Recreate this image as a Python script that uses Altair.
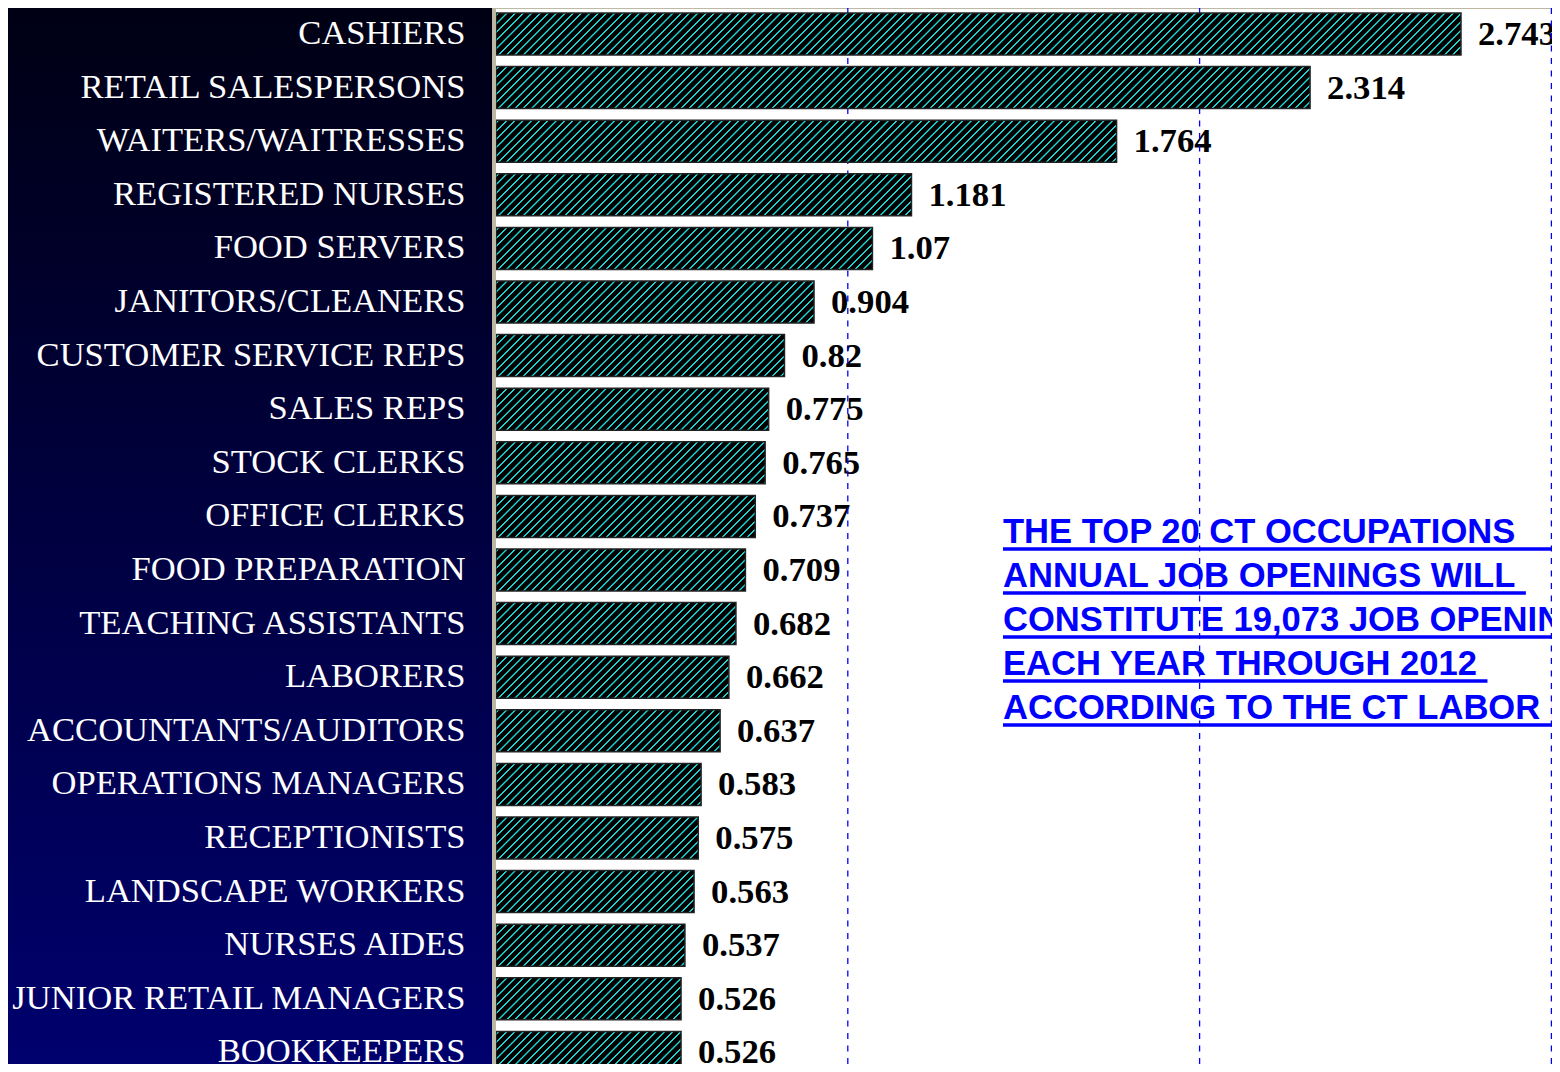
import altair as alt
import pandas as pd

# ---------------- data ----------------
categories = [
    "CASHIERS", "RETAIL SALESPERSONS", "WAITERS/WAITRESSES", "REGISTERED NURSES",
    "FOOD SERVERS", "JANITORS/CLEANERS", "CUSTOMER SERVICE REPS", "SALES REPS",
    "STOCK CLERKS", "OFFICE CLERKS", "FOOD PREPARATION", "TEACHING ASSISTANTS",
    "LABORERS", "ACCOUNTANTS/AUDITORS", "OPERATIONS MANAGERS", "RECEPTIONISTS",
    "LANDSCAPE WORKERS", "NURSES AIDES", "JUNIOR RETAIL MANAGERS", "BOOKKEEPERS",
]
values = [2.743, 2.314, 1.764, 1.181, 1.07, 0.904, 0.82, 0.775, 0.765, 0.737,
          0.709, 0.682, 0.662, 0.637, 0.583, 0.575, 0.563, 0.537, 0.526, 0.526]
grid_values = [1, 2, 3]
note_lines = [
    "THE TOP 20 CT OCCUPATIONS",
    "ANNUAL JOB OPENINGS WILL ",
    "CONSTITUTE 19,073 JOB OPENINGS",
    "EACH YEAR THROUGH 2012 ",
    "ACCORDING TO THE CT LABOR DEPARTMENT",
]
note_underline_to_edge = [True, False, True, False, True]

# ---------------- layout / style ----------------
LEFT = 488          # room for category labels
W = 1056            # plot width
H = 1056            # plot height
PX = 351.8          # pixels per unit
XMAX = W / PX
STEP = 53.6
Y0 = -0.8
PAD_IN = 1 - 42 / STEP
BAR_H = STEP * (1 - PAD_IN)

NOTE_FS = 34.6
NOTE_X0 = 507 / PX
NOTE_Y0 = 535
NOTE_DY = 44

ARIAL_BOLD = {" ": .278, ",": .278, "'": .238, "A": .722, "B": .722, "C": .722, "D": .722,
              "E": .667, "F": .611, "G": .778, "H": .722, "I": .278, "J": .556, "K": .722,
              "L": .611, "M": .833, "N": .722, "O": .778, "P": .667, "Q": .778, "R": .722,
              "S": .667, "T": .611, "U": .722, "V": .667, "W": .944, "X": .667, "Y": .667,
              "Z": .611}


def text_width(s, fs):
    return sum(ARIAL_BOLD.get(c, .556) for c in s) * fs


def hatch(width_px, height_px, period=8.3, ramp=0.5, flat=1.5, ink="#1fd2d2", base="#000000"):
    D = width_px + height_px
    s = D * width_px / (width_px ** 2 + height_px ** 2)
    stops = [alt.GradientStop(offset=0, color=base)]
    a = 1.5
    while a + 2 * ramp + flat < D:
        stops += [alt.GradientStop(offset=round(a / D, 6), color=base),
                  alt.GradientStop(offset=round((a + ramp) / D, 6), color=ink),
                  alt.GradientStop(offset=round((a + ramp + flat) / D, 6), color=ink),
                  alt.GradientStop(offset=round((a + 2 * ramp + flat) / D, 6), color=base)]
        a += period
    stops.append(alt.GradientStop(offset=1, color=base))
    return alt.LinearGradient(gradient="linear", x1=0, y1=0, x2=s,
                              y2=s * height_px / width_px, stops=stops)


df = pd.DataFrame({"cat": categories, "value": values,
                   "label": [str(v) for v in values]})

rows = []
for i, ln in enumerate(note_lines):
    ypx = NOTE_Y0 + NOTE_DY * i
    x1 = XMAX + 0.2 if note_underline_to_edge[i] else NOTE_X0 + text_width(ln, NOTE_FS) / PX
    rows.append({"line": ln, "ypx": ypx, "uy": ypx + 6, "x0": NOTE_X0, "x1": x1})
notes = pd.DataFrame(rows)

x_scale = alt.Scale(domain=[0, XMAX], nice=False, zero=True)
y_enc = alt.Y(
    "cat:N", sort=None,
    scale=alt.Scale(domain=categories, range=[Y0, Y0 + STEP * len(categories)],
                    paddingInner=PAD_IN, paddingOuter=PAD_IN / 2),
    axis=alt.Axis(title=None, ticks=False, domain=False, labelPadding=31, labelLimit=480,
                  labelFont="Liberation Serif", labelFontSize=34.6, labelColor="#ffffff",
                  labelAlign="right", zindex=1),
)

one = pd.DataFrame({"a": [0]})

panel = alt.Chart(one).mark_rect(
    fill=alt.LinearGradient(gradient="linear", x1=0, y1=0, x2=0, y2=1,
                            stops=[alt.GradientStop(offset=0, color="#000014"),
                                   alt.GradientStop(offset=1, color="#00006e")])
).encode(x=alt.value(-LEFT), x2=alt.value(-4), y=alt.value(0), y2=alt.value(H))

frame_left = alt.Chart(one).mark_rule(color="#bcb8a2", strokeWidth=4).encode(
    x=alt.value(-2), y=alt.value(0), y2=alt.value(H))
frame_top = alt.Chart(one).mark_rule(color="#bcb8a2", strokeWidth=2).encode(
    x=alt.value(-4), x2=alt.value(W), y=alt.value(0))

note_text = alt.Chart(notes).mark_text(
    align="left", baseline="alphabetic", font="Liberation Sans", fontWeight="bold",
    fontSize=NOTE_FS, color="#0000ff", clip=True
).encode(x=alt.X("x0:Q", scale=x_scale, axis=None),
         y=alt.Y("ypx:Q", scale=None, axis=None), text="line:N")

note_ul = alt.Chart(notes).mark_rule(color="#0000ff", strokeWidth=3.5, clip=True).encode(
    x=alt.X("x0:Q", scale=x_scale, axis=None), x2="x1:Q",
    y=alt.Y("uy:Q", scale=None, axis=None))

val_text = alt.Chart(df).mark_text(
    align="left", baseline="middle", dx=17, dy=1, font="Liberation Serif",
    fontWeight="bold", fontSize=34.7, color="#000000"
).encode(x=alt.X("value:Q", scale=x_scale, axis=None), y=y_enc, text="label:N")

grid = alt.Chart(pd.DataFrame({"g": grid_values})).mark_rule(
    color="#0000ff", strokeWidth=1.3, strokeDash=[6, 6.5]
).encode(x=alt.X("g:Q", scale=x_scale, axis=None))

bars = []
for c, v in zip(categories, values):
    bars.append(
        alt.Chart(df).transform_filter(alt.FieldEqualPredicate(field="cat", equal=c))
        .mark_bar(fill=hatch(v * PX, BAR_H), stroke="#222222", strokeWidth=1.5, clip=True)
        .encode(x=alt.X("value:Q", scale=x_scale, axis=None), y=y_enc)
    )

chart = alt.layer(panel, frame_left, frame_top, note_text, note_ul, val_text, grid, *bars).properties(
    width=W, height=H,
    autosize=alt.AutoSizeParams(type="none"),
    padding={"left": LEFT, "top": 0, "right": 0, "bottom": 0},
    background="#000020",
).configure_view(fill="#ffffff", strokeWidth=0)

chart.save("out.html", embed_options={"renderer": "svg", "actions": False})
